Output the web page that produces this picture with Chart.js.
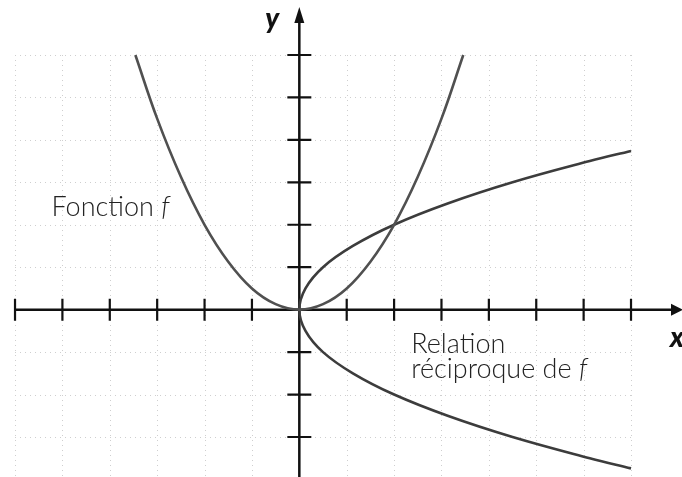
<!DOCTYPE html>
<html>
<head>
<meta charset="utf-8">
<script src="https://cdn.jsdelivr.net/npm/chart.js@4"></script>
<style>
  html, body { margin: 0; padding: 0; background: #fff; }
  #wrap { width: 682px; height: 477px; }
</style>
</head>
<body>
<div id="wrap"><canvas id="chart" width="682" height="477"></canvas></div>
<script>
// points
const fX = [-3.46, -3, -2.5, -2, -1.5, -1, -0.5, 0, 0.5, 1, 1.5, 2, 2.5, 3, 3.46];
const fY = [6, 4.5, 3.13, 2, 1.13, 0.5, 0.13, 0, 0.13, 0.5, 1.13, 2, 3.13, 4.5, 6];

const invX = [7, 6.13, 4.5, 3.13, 2, 1.13, 0.5, 0.13, 0, 0.13, 0.5, 1.13, 2, 3.13, 4.5, 6.13, 7];
const invY = [-3.74, -3.5, -3, -2.5, -2, -1.5, -1, -0.5, 0, 0.5, 1, 1.5, 2, 2.5, 3, 3.5, 3.74];

const xTicks = [-6, -5, -4, -3, -2, -1, 1, 2, 3, 4, 5, 6, 7];
const yTicks = [-3, -2, -1, 1, 2, 3, 4, 5, 6];
const gridX = [-6, -5, -4, -3, -2, -1, 0, 1, 2, 3, 4, 5, 6, 7];
const gridY = [-3, -2, -1, 0, 1, 2, 3, 4, 5, 6];

const labels = [
  { text: 'Fonction ', fx: 'f', x: -5.23, y: 2.2 },
  { text: 'Relation', fx: '', x: 2.36, y: -1.03 },
  { text: 'réciproque de ', fx: 'f', x: 2.36, y: -1.62 },
];

const toPts = (xs, ys) => xs.map((x, i) => ({ x, y: ys[i] }));

const axesPlugin = {
  id: 'axes',
  beforeDatasetsDraw(chart) {
    const { ctx, scales: { x, y }, chartArea } = chart;
    ctx.save();
    // dotted grid
    ctx.strokeStyle = '#cfcfcf';
    ctx.lineWidth = 1;
    ctx.setLineDash([1, 4]);
    gridX.forEach(v => {
      const px = Math.round(x.getPixelForValue(v)) + 0.5;
      ctx.beginPath();
      ctx.moveTo(px, y.getPixelForValue(6));
      ctx.lineTo(px, chartArea.bottom);
      ctx.stroke();
    });
    gridY.forEach(v => {
      const py = Math.round(y.getPixelForValue(v)) + 0.5;
      ctx.beginPath();
      ctx.moveTo(x.getPixelForValue(-6), py);
      ctx.lineTo(x.getPixelForValue(7), py);
      ctx.stroke();
    });
    ctx.setLineDash([]);

    // axes
    const ox = x.getPixelForValue(0), oy = y.getPixelForValue(0);
    ctx.strokeStyle = '#111';
    ctx.fillStyle = '#111';
    ctx.lineWidth = 2.5;
    ctx.beginPath();
    ctx.moveTo(x.getPixelForValue(-6), oy);
    ctx.lineTo(chartArea.right - 4, oy);
    ctx.moveTo(ox, chartArea.bottom);
    ctx.lineTo(ox, chartArea.top + 14);
    ctx.stroke();

    // arrow heads
    ctx.beginPath();
    ctx.moveTo(ox, chartArea.top + 7);
    ctx.lineTo(ox - 5, chartArea.top + 23);
    ctx.lineTo(ox + 5, chartArea.top + 23);
    ctx.closePath();
    ctx.fill();
    ctx.beginPath();
    ctx.moveTo(chartArea.right + 1, oy);
    ctx.lineTo(chartArea.right - 11, oy - 6);
    ctx.lineTo(chartArea.right - 11, oy + 6);
    ctx.closePath();
    ctx.fill();

    // tick marks
    ctx.lineWidth = 2.2;
    ctx.beginPath();
    xTicks.forEach(v => {
      const px = x.getPixelForValue(v);
      ctx.moveTo(px, oy - 11);
      ctx.lineTo(px, oy + 11);
    });
    yTicks.forEach(v => {
      const py = y.getPixelForValue(v);
      ctx.moveTo(ox - 12, py);
      ctx.lineTo(ox + 12, py);
    });
    ctx.stroke();

    // axis names
    ctx.font = 'italic 900 28px Lato';
    ctx.textBaseline = 'alphabetic';
    ctx.fillText('y', ox - 34, chartArea.top + 28);
    ctx.fillText('x', chartArea.right - 12, oy + 37);
    ctx.restore();
  },
  afterDatasetsDraw(chart) {
    const { ctx, scales: { x, y } } = chart;
    ctx.save();
    ctx.fillStyle = '#222';
    ctx.textBaseline = 'alphabetic';
    labels.forEach(l => {
      const px = x.getPixelForValue(l.x), py = y.getPixelForValue(l.y);
      ctx.font = '300 27px Lato';
      ctx.fillText(l.text, px, py);
      if (l.fx) {
        const w = ctx.measureText(l.text).width;
        ctx.font = 'italic 300 27px Lato';
        ctx.fillText(l.fx, px + w, py);
      }
    });
    ctx.restore();
  }
};

new Chart(document.getElementById('chart'), {
  type: 'scatter',
  data: {
    datasets: [
      {
        label: 'Fonction f',
        data: toPts(fX, fY),
        showLine: true,
        borderColor: '#505050',
        borderWidth: 2.6,
        pointRadius: 0,
        tension: 0.4,
      },
      {
        label: 'Relation réciproque de f',
        data: toPts(invX, invY),
        showLine: true,
        borderColor: '#3c3c3c',
        borderWidth: 2.6,
        pointRadius: 0,
        tension: 0.4,
      },
    ],
  },
  options: {
    responsive: false,
    animation: false,
    layout: { padding: 0 },
    plugins: { legend: { display: false }, tooltip: { enabled: false } },
    scales: {
      x: { type: 'linear', min: -6.317, max: 8.076, display: false },
      y: { type: 'linear', min: -3.943, max: 7.296, display: false },
    },
  },
  plugins: [axesPlugin],
});
</script>
</body>
</html>
